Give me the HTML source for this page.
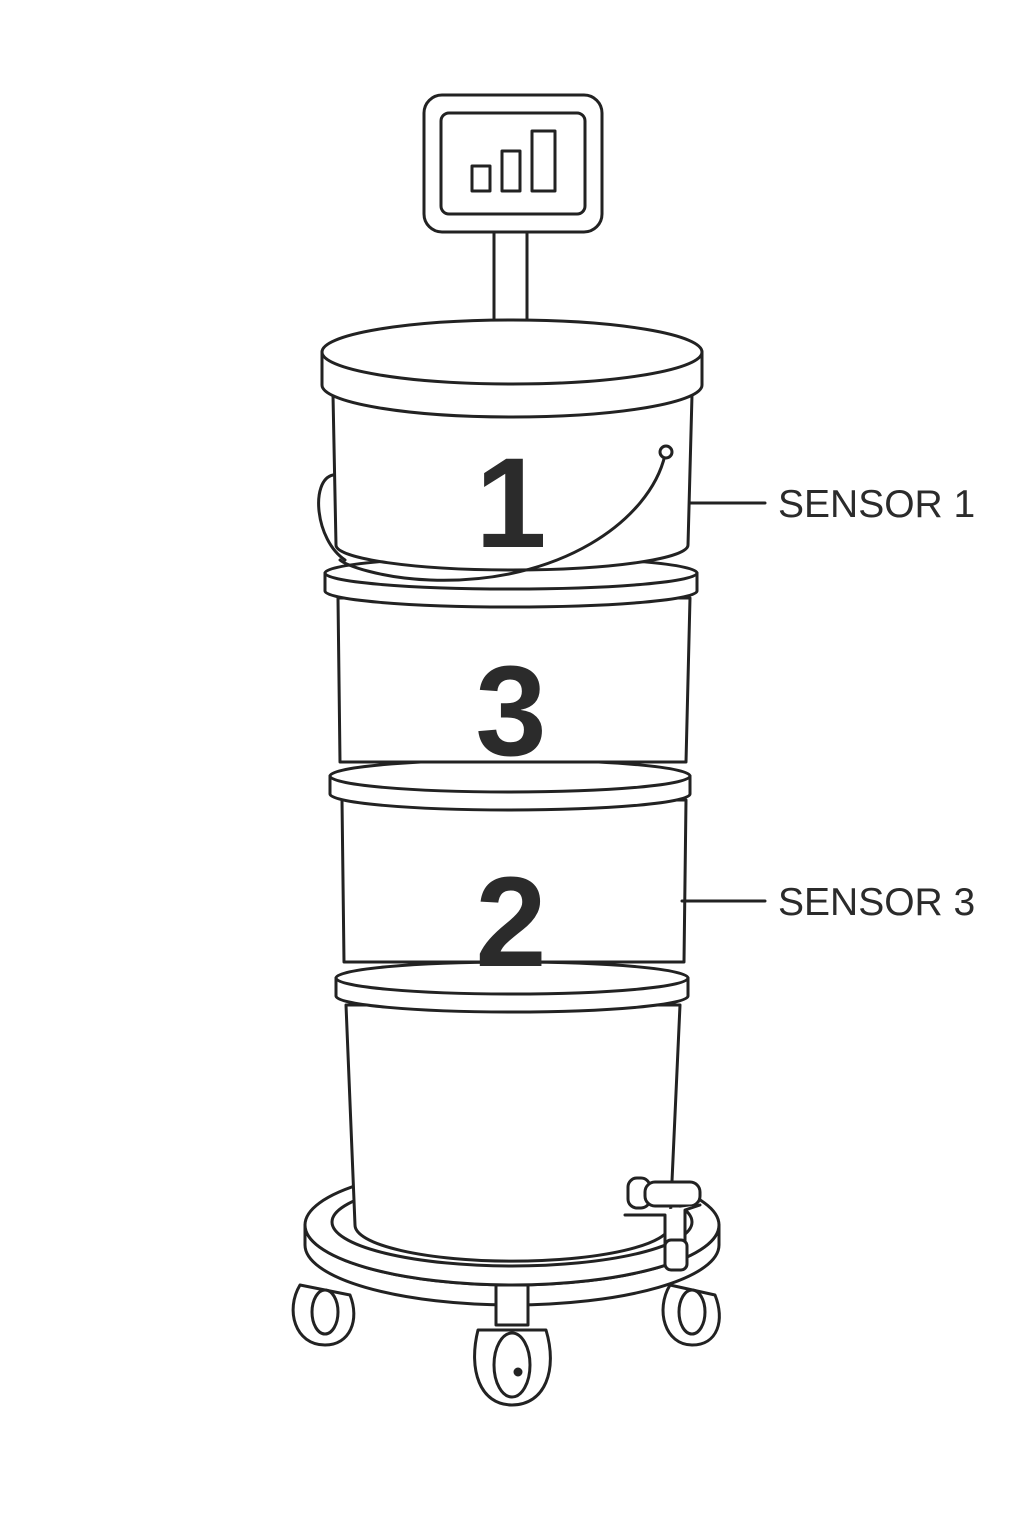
<!DOCTYPE html>
<html><head><meta charset="utf-8"><style>
html,body{margin:0;padding:0;background:#fff;}
svg{display:block}
text{font-family:"Liberation Sans",sans-serif;fill:#2b2b2b}
</style></head><body>
<svg width="1024" height="1536" viewBox="0 0 1024 1536" fill="#fff" stroke="#222" stroke-width="3" stroke-linejoin="round" stroke-linecap="round">
<g>
<rect x="424" y="95" width="178" height="137" rx="18"/>
<rect x="441" y="113" width="144" height="101" rx="8"/>
<rect x="472" y="166" width="18" height="25"/>
<rect x="502" y="151" width="18" height="40"/>
<rect x="532" y="131" width="23" height="60"/>
</g>
<rect x="494" y="232" width="33" height="90"/>
<g>
<path d="M305 1225 A207 60 0 0 0 719 1225 L719 1245 A207 60 0 0 1 305 1245 Z"/>
<ellipse cx="512" cy="1225" rx="207" ry="60"/>
<ellipse cx="512" cy="1222" rx="180" ry="44"/>
<g><path d="M300 1285 C285 1310 295 1345 325 1345 C350 1345 360 1320 350 1295 Z"/><ellipse cx="325" cy="1312" rx="13" ry="22"/></g>
<g><path d="M670 1285 C655 1310 665 1345 692 1345 C718 1345 725 1320 715 1295 Z"/><ellipse cx="692" cy="1312" rx="13" ry="22"/></g>
<g><rect x="496" y="1285" width="32" height="40"/><path d="M478 1330 C468 1370 480 1405 512 1405 C545 1405 558 1370 546 1330 Z"/><ellipse cx="512" cy="1365" rx="18" ry="32"/><circle cx="518" cy="1372" r="3" fill="#222"/></g>
</g>
<g>
<path d="M346 1005 L355 1225 A157 36 0 0 0 670 1225 L680 1005 Z"/>
<path d="M336 978 L336 996 A176 16 0 0 0 688 996 L688 978 Z"/>
<ellipse cx="512" cy="978" rx="176" ry="16"/>
</g>
<g>
<rect x="628" y="1178" width="22" height="30" rx="9"/>
<rect x="645" y="1182" width="55" height="24" rx="10"/>
<path d="M625 1215 L665 1215 L665 1265 L685 1265 L685 1210 L700 1205"/>
<rect x="665" y="1240" width="22" height="30" rx="6"/>
</g>
<g>
<path d="M342 800 L344 962 L684 962 L686 800 Z"/>
<path d="M330 776 L330 794 A180 16 0 0 0 690 794 L690 776 Z"/>
<ellipse cx="510" cy="776" rx="180" ry="16"/>
</g>
<g>
<path d="M338 598 L340 762 L686 762 L690 598 Z"/>
<path d="M325 573 L325 591 A186 16 0 0 0 697 591 L697 573 Z"/>
<ellipse cx="511" cy="573" rx="186" ry="16"/>
</g>
<g>
<path d="M333 395 L336 545 A176 25 0 0 0 688 545 L692 395 Z"/>
<path d="M333 475 C310 480 315 540 345 560" fill="none"/>
<path d="M665 455 C650 520 560 585 430 580 C380 578 345 565 340 560" fill="none"/>
<circle cx="666" cy="452" r="6"/>
</g>
<g>
<path d="M322 352 L322 385 A190 32 0 0 0 702 385 L702 352 Z"/>
<ellipse cx="512" cy="352" rx="190" ry="32"/>
</g>
<text x="511" y="547" font-size="128" font-weight="bold" text-anchor="middle" stroke="none">1</text>
<text x="511" y="755" font-size="128" font-weight="bold" text-anchor="middle" stroke="none">3</text>
<text x="511" y="966" font-size="128" font-weight="bold" text-anchor="middle" stroke="none">2</text>
<g>
<line x1="690" y1="503" x2="765" y2="503"/>
<text x="778" y="517" font-size="39" stroke="none">SENSOR 1</text>
</g>
<g>
<line x1="682" y1="901" x2="765" y2="901"/>
<text x="778" y="915" font-size="39" stroke="none">SENSOR 3</text>
</g>
</svg>
</body></html>
